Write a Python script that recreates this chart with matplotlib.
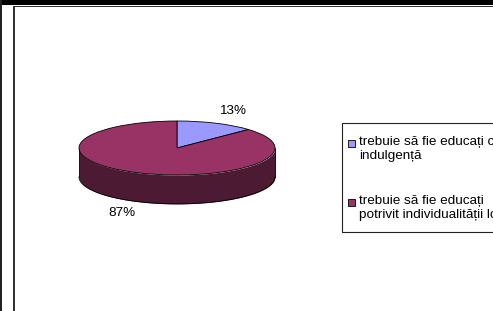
import numpy as np
import matplotlib
matplotlib.use("Agg")
import matplotlib.pyplot as plt
from matplotlib.patches import Rectangle

# data
labels = ["trebuie să fie educați cu\nindulgență",
          "trebuie să fie educați\npotrivit individualității lor"]
values = [13, 87]
top_colors = ["#9999ff", "#993366"]
side_colors = ["#4a4a80", "#4c1a33"]

plt.rcParams["font.family"] = ["Liberation Sans", "DejaVu Sans"]
plt.rcParams["font.size"] = 9.7

W, H = 493, 311
fig = plt.figure(figsize=(W / 100, H / 100), dpi=100)


def px(x, y, w, h):
    # pixel box (from top-left) -> figure fraction
    return [x / W, 1 - (y + h) / H, w / W, h / H]


# frame bits of the screenshot
fig.add_artist(Rectangle((0, 1 - 5 / H), 1, 5 / H, transform=fig.transFigure,
                         color="black", lw=0))
fig.add_artist(Rectangle((0, 0), 2 / W, 1, transform=fig.transFigure,
                         color="#222222", lw=0))
fig.add_artist(Rectangle((13 / W, 0), 2 / W, 1 - 6 / H, transform=fig.transFigure,
                         color="#333333", lw=0))
fig.add_artist(Rectangle((13 / W, 1 - 7 / H), 1, 1.2 / H, transform=fig.transFigure,
                         color="#333333", lw=0))

# pie axes: 1 unit in x = 98 px, 1 unit in y = 27 px, centre at (177, 148)
rx, ry, depth = 98, 27, 1.07
ax = fig.add_axes(px(177 - 1.2 * rx, 148 - 1.5 * ry, 2.4 * rx, 4.0 * ry))
ax.axis("off")

# side wall of the front half
t = np.linspace(np.pi, 2 * np.pi, 200)
xs = np.cos(t)
ax.fill_between(xs, np.sin(t) - depth, np.sin(t), color=side_colors[1], lw=0, zorder=1)
ax.plot(xs, np.sin(t) - depth, color="black", lw=0.6, zorder=2)
ax.plot([-1, -1], [0, -depth], color="black", lw=0.6, zorder=2)
ax.plot([1, 1], [0, -depth], color="black", lw=0.6, zorder=2)

wedges, _ = ax.pie(values, colors=top_colors, startangle=90, counterclock=False,
                   radius=1, wedgeprops=dict(edgecolor="black", linewidth=0.6, zorder=3))
ax.set_aspect("auto")
ax.set_xlim(-1.2, 1.2)
ax.set_ylim(-2.5, 1.5)

for w, v in zip(wedges, values):
    mid = np.deg2rad((w.theta1 + w.theta2) / 2)
    x, y = 1.42 * np.cos(mid), 1.5 * np.sin(mid)
    if y < 0:
        y = 1.46 * np.sin(mid) - depth
    ax.text(x, y, f"{v}%", ha="center", va="center", zorder=4)

# legend box (cut off by the right edge, as in the screenshot)
fig.add_artist(Rectangle((342 / W, 1 - 232 / H), 200 / W, 109 / H,
                         transform=fig.transFigure, fill=False, ec="#222222", lw=0.8))
rows = [143, 202]
for lab, col, yy in zip(labels, top_colors, rows):
    fig.add_artist(Rectangle((348 / W, 1 - (yy + 3.5) / H), 7 / W, 7 / H,
                             transform=fig.transFigure, fc=col, ec="black", lw=0.6))
    fig.text(359 / W, 1 - (yy - 7) / H, lab, ha="left", va="top", linespacing=1.2)

fig.savefig("out.png", dpi=100)
